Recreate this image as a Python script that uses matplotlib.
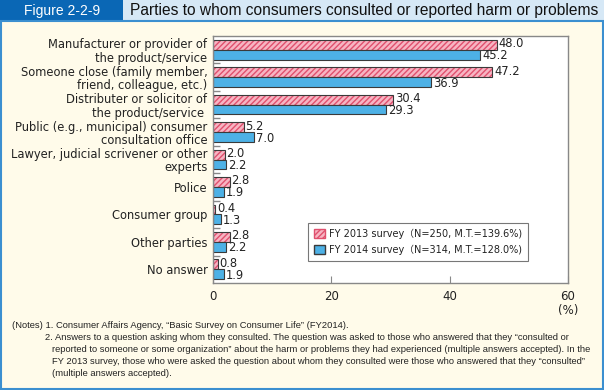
import matplotlib
matplotlib.use("Agg")
import matplotlib.pyplot as plt
import numpy as np
from matplotlib.patches import Rectangle, Patch

# --- datos ---
categorias = [
    "Manufacturer or provider of\nthe product/service",
    "Someone close (family member,\nfriend, colleague, etc.)",
    "Distributer or solicitor of\nthe product/service ",
    "Public (e.g., municipal) consumer\nconsultation office",
    "Lawyer, judicial scrivener or other\nexperts",
    "Police",
    "Consumer group",
    "Other parties",
    "No answer",
]
fy2013 = [48.0, 47.2, 30.4, 5.2, 2.0, 2.8, 0.4, 2.8, 0.8]
fy2014 = [45.2, 36.9, 29.3, 7.0, 2.2, 1.9, 1.3, 2.2, 1.9]
etiquetas_x = ["0", "20", "40", "60"]
leyenda = ["FY 2013 survey（N=250, M.T.=139.6%)", "FY 2014 survey（N=314, M.T.=128.0%)"]

# --- colores ---
CREMA = "#FFFBEA"
AZUL_OSCURO = "#0A67B5"
AZUL_CLARO = "#D6E8F6"
ROSA = "#F7B5C3"
ROSA_HATCH = "#E0506E"
AZUL_BARRA = "#4DB1E6"
BORDE = "#3A3A3A"

plt.rcParams['font.family'] = ['DejaVu Sans', 'Noto Sans CJK JP']
plt.rcParams['hatch.linewidth'] = 1.0

fig = plt.figure(figsize=(6.04, 3.90), dpi=100, facecolor=CREMA)

# encabezado
fig.patches.append(Rectangle((0, 1 - 21/390), 123/604, 21/390, transform=fig.transFigure,
                             facecolor=AZUL_OSCURO, edgecolor="none", zorder=0))
fig.patches.append(Rectangle((123/604, 1 - 21/390), 1 - 123/604, 21/390, transform=fig.transFigure,
                             facecolor=AZUL_CLARO, edgecolor="none", zorder=0))
fig.patches.append(Rectangle((0.002, 0.003), 0.996, 1 - 21/390 - 0.003, transform=fig.transFigure,
                             facecolor="none", edgecolor="#3B8FD0", linewidth=1.5, zorder=0))
fig.text(62/604, 1 - 11/390, "Figure 2-2-9", color="white", fontsize=10,
         ha="center", va="center", family=["Liberation Sans"])
fig.text(130/604, 1 - 11/390, "Parties to whom consumers consulted or reported harm or problems",
         color="#111111", fontsize=11.2, ha="left", va="center", family=["Liberation Sans"])

ax = fig.add_axes([213/604, 1 - 283/390, 355/604, 247/390])
ax.set_facecolor("white")

y = np.arange(len(categorias))
alto = 0.36
ax.barh(y - alto/2, fy2013, height=alto, color=ROSA, edgecolor=ROSA_HATCH, linewidth=0,
        hatch="//////")
# contorno oscuro aparte
ax.barh(y - alto/2, fy2013, height=alto, color="none", edgecolor=BORDE, linewidth=0.8)
ax.barh(y + alto/2, fy2014, height=alto, color=AZUL_BARRA, edgecolor=BORDE, linewidth=0.8)

for yi, v in zip(y, fy2013):
    ax.text(v + 0.3, yi - alto/2 - 0.04, f"{v:.1f}", va="center", ha="left", fontsize=8.3, color="#222222")
for yi, v in zip(y, fy2014):
    ax.text(v + 0.3, yi + alto/2 + 0.04, f"{v:.1f}", va="center", ha="left", fontsize=8.3, color="#222222")

ax.set_xlim(0, 60)
ax.set_ylim(len(categorias) - 0.5, -0.5)
ax.set_xticks([0, 20, 40, 60])
ax.set_xticklabels(etiquetas_x, fontsize=8.5, color="#222222")
ax.set_yticks(y)
ax.set_yticklabels(categorias, fontsize=8.3, color="#222222", linespacing=1.05)
ax.set_yticks(np.arange(0.5, len(categorias) - 0.5, 1), minor=True)
ax.tick_params(axis="y", which="major", length=0, pad=4)
ax.tick_params(axis="y", which="minor", direction="in", length=5, color="#888888", width=1)
ax.tick_params(axis="x", direction="in", length=5, color="#888888", pad=5)
for s in ax.spines.values():
    s.set_color("#888888")
    s.set_linewidth(1)
ax.text(1.0, -0.083, "(%)", transform=ax.transAxes, ha="center", va="top", fontsize=8.5, color="#222222")

h1 = Patch(facecolor=ROSA, edgecolor=ROSA_HATCH, hatch="//////")
h2 = Patch(facecolor=AZUL_BARRA, edgecolor=BORDE)
leg = ax.legend([h1, h2], leyenda, loc="lower right", bbox_to_anchor=(0.902, 0.07),
                fontsize=7.0, frameon=True, fancybox=False, edgecolor="#555555",
                handlelength=1.1, handleheight=1.1, labelspacing=0.6, borderpad=0.6,
                handletextpad=0.5)
leg.get_frame().set_linewidth(0.8)
for t in leg.get_texts():
    t.set_color("#222222")

# notas
notas = [
    (12, 326, "(Notes) 1. Consumer Affairs Agency, \u201cBasic Survey on Consumer Life\u201d (FY2014)."),
    (45, 338, "2. Answers to a question asking whom they consulted. The question was asked to those who answered that they \u201cconsulted or"),
    (52, 349, "reported to someone or some organization\u201d about the harm or problems they had experienced (multiple answers accepted). In the"),
    (52, 361, "FY 2013 survey, those who were asked the question about whom they consulted were those who answered that they \u201cconsulted\u201d"),
    (52, 373, "(multiple answers accepted)."),
]
for xp, yp, t in notas:
    fig.text(xp/604, 1 - yp/390, t, fontsize=6.75, ha="left", va="center", color="#222222",
             family=["Liberation Sans"])

fig.savefig("out.png", dpi=100, facecolor=CREMA)
